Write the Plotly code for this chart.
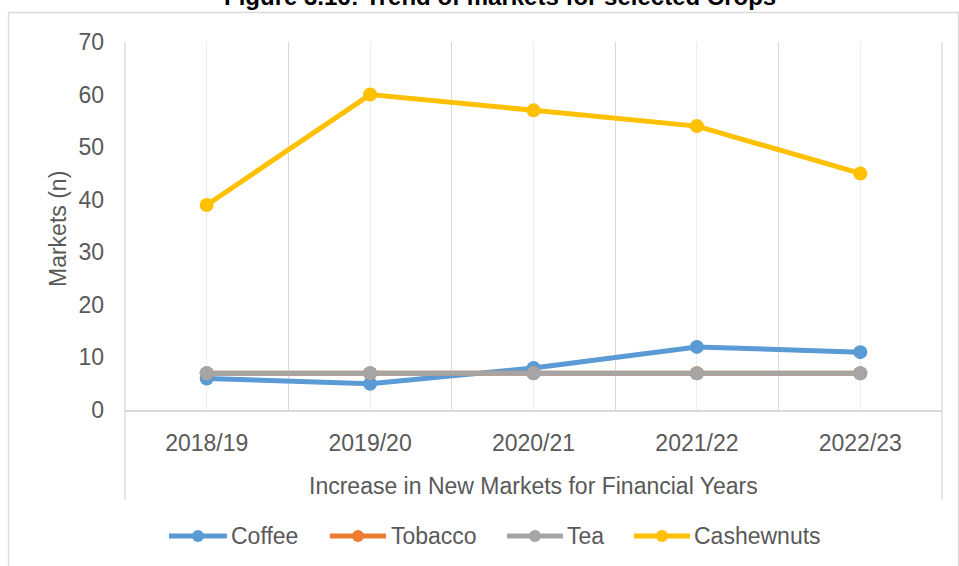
import plotly.graph_objects as go

categories = ["2018/19", "2019/20", "2020/21", "2021/22", "2022/23"]
coffee = [6, 5, 8, 12, 11]
tobacco = [7, 7, 7, 7, 7]
tea = [7, 7, 7, 7, 7]
cashewnuts = [39, 60, 57, 54, 45]
series_names = ["Coffee", "Tobacco", "Tea", "Cashewnuts"]
series_colors = ["#5B9BD5", "#ED7D31", "#A5A5A5", "#FFC000"]
y_ticks = [0, 10, 20, 30, 40, 50, 60, 70]

W, H = 959, 566
L, R, T, B = 125, 942, 42, 410  # plot area pixel box


def px(x):
    return (x - L) / (R - L)


def py(y):
    return (B - y) / (B - T)


FONT = "Liberation Sans, Arial, sans-serif"
TXT = "#595959"
GRID = "#D9D9D9"

fig = go.Figure()
xs = list(range(len(categories)))
for name, vals, col in zip(series_names, [coffee, tobacco, tea, cashewnuts], series_colors):
    fig.add_trace(go.Scatter(
        x=xs, y=vals, name=name, mode="lines+markers",
        line=dict(color=col, width=5),
        marker=dict(color=col, size=14),
        showlegend=False,
    ))

shapes = [
    # outer chart border
    dict(type="rect", xref="paper", yref="paper", x0=px(8.5), x1=px(958.5), y0=py(580), y1=py(12.5),
         line=dict(color=GRID, width=1.3), layer="below"),
    # extended left and right plot edges below axis
    dict(type="line", xref="paper", yref="paper", x0=0, x1=0, y0=py(500), y1=1,
         line=dict(color=GRID, width=1.3), layer="below"),
    dict(type="line", xref="paper", yref="paper", x0=1, x1=1, y0=py(500), y1=1,
         line=dict(color=GRID, width=1.3), layer="below"),
]
annotations = [
    dict(text="<b>Figure 3.16: Trend of markets for selected Crops</b>",
         xref="paper", yref="paper", x=px(500), y=py(-4), xanchor="center", yanchor="middle",
         showarrow=False, font=dict(size=24, color="#000000", family=FONT)),
    dict(text="Increase in New Markets for Financial Years",
         xref="paper", yref="paper", x=px(533), y=py(486), xanchor="center", yanchor="middle",
         showarrow=False, font=dict(size=23, color=TXT, family=FONT)),
    dict(text="Markets (n)", textangle=-90,
         xref="paper", yref="paper", x=px(58), y=py(229), xanchor="center", yanchor="middle",
         showarrow=False, font=dict(size=23, color=TXT, family=FONT)),
]

# custom legend (long line symbols like the reference)
legend_y = 536
legend_items = [(169, 227, 229), (330, 386, 389), (507, 563, 565), (634, 690, 692)]
for (x0, x1, xt), name, col in zip(legend_items, series_names, series_colors):
    shapes.append(dict(type="line", xref="paper", yref="paper", x0=px(x0), x1=px(x1),
                       y0=py(legend_y), y1=py(legend_y), line=dict(color=col, width=5)))
    xc = (x0 + x1) / 2
    shapes.append(dict(type="circle", xref="paper", yref="paper", xsizemode="pixel", ysizemode="pixel",
                       xanchor=px(xc), yanchor=py(legend_y), x0=-6, x1=6, y0=-6, y1=6,
                       fillcolor=col, line=dict(color=col, width=0)))
    annotations.append(dict(text=name, xref="paper", yref="paper", x=px(xt), y=py(legend_y),
                            xanchor="left", yanchor="middle", showarrow=False,
                            font=dict(size=23, color=TXT, family=FONT)))

fig.update_layout(
    width=W, height=H,
    margin=dict(l=L, r=W - R, t=T, b=H - B, pad=0),
    paper_bgcolor="white", plot_bgcolor="white",
    font=dict(family=FONT, size=23, color=TXT),
    showlegend=False,
    xaxis=dict(
        range=[-0.5, len(categories) - 0.5],
        tickvals=xs, ticktext=categories,
        showgrid=True, gridcolor="#EDEDED", gridwidth=1,
        minor=dict(tickvals=[i - 0.5 for i in range(len(categories) + 1)],
                   showgrid=True, gridcolor=GRID, gridwidth=1.3),
        showline=True, linecolor=GRID, linewidth=1.5,
        ticks="", ticklabelstandoff=12,
        zeroline=False, fixedrange=True,
    ),
    yaxis=dict(
        range=[0, 70], tickvals=y_ticks,
        showgrid=False, zeroline=False, showline=False,
        ticks="", ticklabelstandoff=20, fixedrange=True,
    ),
    annotations=annotations,
    shapes=shapes,
)

fig.write_html("out.html")
